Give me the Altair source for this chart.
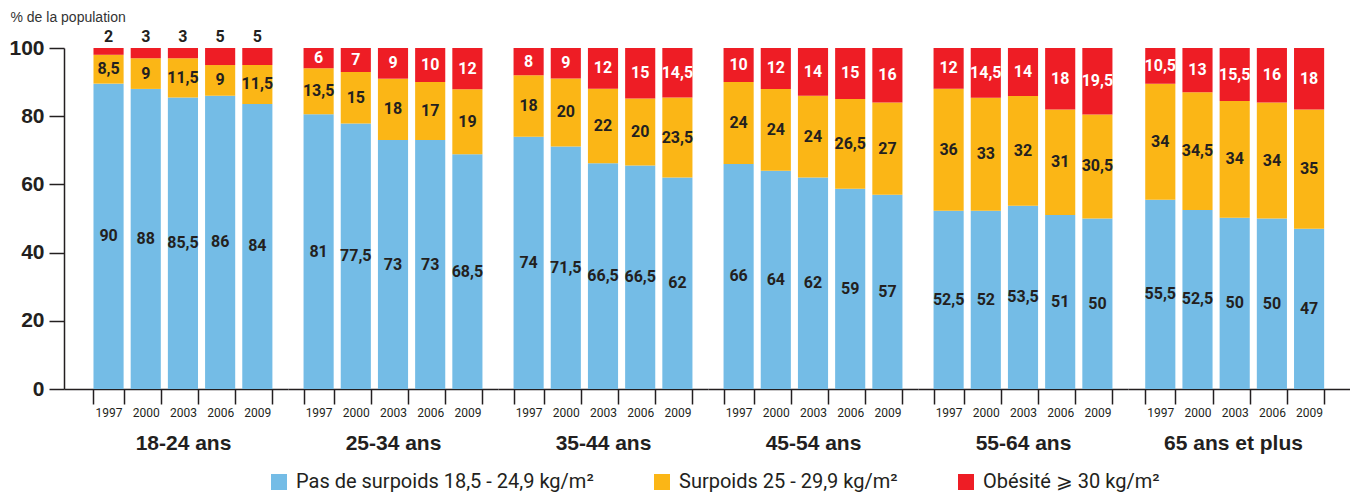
import altair as alt
import pandas as pd

groups = ["18-24 ans", "25-34 ans", "35-44 ans", "45-54 ans", "55-64 ans", "65 ans et plus"]
years = ["1997", "2000", "2003", "2006", "2009"]
categories = ["Pas de surpoids 18,5 - 24,9 kg/m²", "Surpoids 25 - 29,9 kg/m²", "Obésité ⩾ 30 kg/m²"]
colors = ["#74BCE6", "#FBB616", "#EE1D25"]

normal = [
    [90, 88, 85.5, 86, 84],
    [81, 77.5, 73, 73, 68.5],
    [74, 71.5, 66.5, 66.5, 62],
    [66, 64, 62, 59, 57],
    [52.5, 52, 53.5, 51, 50],
    [55.5, 52.5, 50, 50, 47],
]
overweight = [
    [8.5, 9, 11.5, 9, 11.5],
    [13.5, 15, 18, 17, 19],
    [18, 20, 22, 20, 23.5],
    [24, 24, 24, 26.5, 27],
    [36, 33, 32, 31, 30.5],
    [34, 34.5, 34, 34, 35],
]
obese = [
    [2, 3, 3, 5, 5],
    [6, 7, 9, 10, 12],
    [8, 9, 12, 15, 14.5],
    [10, 12, 14, 15, 16],
    [12, 14.5, 14, 18, 19.5],
    [10.5, 13, 15.5, 16, 18],
]

rows = []
for gi, g in enumerate(groups):
    for yi, yr in enumerate(years):
        for ci, vals in enumerate([normal, overweight, obese]):
            rows.append(dict(group=g, year=yr, cat=categories[ci], ord=ci, value=vals[gi][yi]))
df = pd.DataFrame(rows)

FONT = "Roboto, sans-serif"
BOLDFONT = "Liberation Sans, Roboto, sans-serif"
DARK = "#231f20"
PI = 0.19

# panel width, band-scale outer padding and alignment, title centre
layout = [
    (224, 0.606, 0.654, 119),
    (210, 0.418, 0.5, 105),
    (210, 0.418, 0.5, 105),
    (210, 0.418, 0.5, 105),
    (210, 0.418, 0.5, 105),
    (222, 0.579, 0.40, 105),
]

legend = alt.Legend(title=None, orient="none", direction="horizontal", legendX=205, legendY=424,
                    symbolType="square", symbolSize=256, symbolStrokeWidth=0,
                    labelFontSize=20, labelFont=FONT, labelColor=DARK, labelOffset=7,
                    columnPadding=58, labelLimit=400)

panels = []
for gi, g in enumerate(groups):
    W, po, al, tx = layout[gi]
    xscale = alt.Scale(paddingInner=PI, paddingOuter=po, align=al)
    yscale = alt.Scale(domain=[0, 100], nice=False)
    if gi == 0:
        yaxis = alt.Axis(values=[0, 20, 40, 60, 80, 100], grid=False, tickSize=15,
                         labelFontSize=21, labelFontWeight="bold", labelFont=BOLDFONT,
                         labelColor=DARK, domainColor=DARK, tickColor=DARK,
                         domainWidth=1.5, tickWidth=1.5, labelPadding=5,
                         title="% de la population", titleAngle=0, titleAlign="left",
                         titleBaseline="middle", titleX=-54, titleY=-31,
                         titleFontSize=14, titleFontWeight="normal", titleColor="#333333",
                         titleFont=BOLDFONT)
    else:
        yaxis = None
    xaxis = alt.Axis(title=g, labelAngle=0, tickBand="extent", tickSize=15, grid=False,
                     labelFontSize=12, labelPadding=3, labelFont=FONT,
                     labelColor=DARK, domainColor=DARK, tickColor=DARK,
                     domainWidth=1.5, tickWidth=1.5,
                     titleFontSize=21, titleFontWeight="bold", titleFont=BOLDFONT,
                     titleColor=DARK, titlePadding=14, titleX=tx)
    bars = alt.Chart().mark_bar().encode(
        x=alt.X("year:N", sort=years, scale=xscale, axis=xaxis),
        y=alt.Y("y0:Q", scale=yscale, axis=yaxis),
        y2="y1:Q",
        color=alt.Color("cat:N", sort=categories,
                        scale=alt.Scale(domain=categories, range=colors),
                        legend=legend),
        order=alt.Order("ord:Q"),
    )
    text = alt.Chart().mark_text(fontSize=16, fontWeight="bold", font=FONT,
                                 align="center", baseline="middle").encode(
        x=alt.X("year:N", sort=years, scale=xscale),
        y=alt.Y("ly:Q", scale=yscale),
        text="label:N",
        color=alt.condition("datum.ord == 2 && datum.value >= 6",
                            alt.value("white"), alt.value(DARK)),
    )
    panel = alt.layer(bars, text, data=df).transform_filter(
        alt.datum.group == g
    ).transform_joinaggregate(
        total="sum(value)", groupby=["year"]
    ).transform_calculate(
        pct="datum.value / datum.total * 100"
    ).transform_stack(
        stack="pct", groupby=["year"], sort=[alt.SortField("ord")], as_=["y0", "y1"]
    ).transform_calculate(
        ly="(datum.ord == 2 && datum.value < 6) ? 103.3 : (datum.y0 + datum.y1) / 2",
        label="replace(toString(datum.value), '.', ',')",
    ).properties(width=W, height=341)
    panels.append(panel)

chart = alt.hconcat(*panels, spacing=0).configure_view(
    stroke="transparent", strokeWidth=0
).configure(
    padding={"left": 0, "top": 2, "right": 0, "bottom": 0},
    style={"cell": {"stroke": "transparent", "strokeWidth": 0}},
)

chart.save("out.html", embed_options={"renderer": "svg", "actions": False})
